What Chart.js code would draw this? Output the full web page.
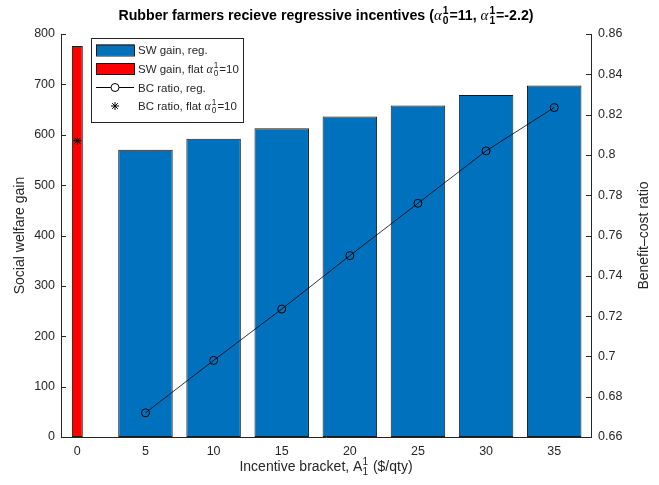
<!DOCTYPE html>
<html>
<head>
<meta charset="utf-8">
<script src="https://cdn.jsdelivr.net/npm/chart.js@4.4.0/dist/chart.umd.min.js"></script>
<style>
  html, body { margin: 0; padding: 0; background: #fff; }
</style>
</head>
<body>
<canvas id="chart" width="659" height="485"></canvas>
<script>
// data
const brackets = [5, 10, 15, 20, 25, 30, 35];
const swGainReg = [570, 592, 613, 636, 658, 679, 698];
const bcRatioReg = [0.672, 0.698, 0.7235, 0.750, 0.776, 0.802, 0.8235];
const flatBracket = [0];
const swGainFlat = [776];
const bcRatioFlat = [0.807];

const xTicks = [0, 5, 10, 15, 20, 25, 30, 35];
const yLeftTicks = [0, 100, 200, 300, 400, 500, 600, 700, 800];
const yRightTicks = [0.66, 0.68, 0.7, 0.72, 0.74, 0.76, 0.78, 0.8, 0.82, 0.84, 0.86];

const TXT = "#262626";
const FONT = "'Liberation Sans', Arial, sans-serif";
const SERIF = "'Liberation Serif', 'DejaVu Serif', serif";

// rich text pieces: {t} plain, {a} alpha, {sub, sup} stacked scripts
function richWidth(ctx, parts, size, weight) {
    let w = 0;
    for (const p of parts) {
        if (p.t !== undefined) {
            ctx.font = `${weight} ${size}px ${FONT}`;
            w += ctx.measureText(p.t).width;
        } else if (p.a) {
            ctx.font = `italic ${size * 1.05}px ${SERIF}`;
            w += ctx.measureText("\u03b1").width + 1;
        } else {
            ctx.font = `${weight} ${size * 0.72}px ${FONT}`;
            w += Math.max(ctx.measureText(p.sub).width, ctx.measureText(p.sup).width) + 1;
        }
    }
    return w;
}

function drawRich(ctx, parts, x, y, size, weight) {
    ctx.textBaseline = "alphabetic";
    ctx.textAlign = "left";
    let cx = x;
    for (const p of parts) {
        if (p.t !== undefined) {
            ctx.font = `${weight} ${size}px ${FONT}`;
            ctx.fillText(p.t, cx, y);
            cx += ctx.measureText(p.t).width;
        } else if (p.a) {
            ctx.font = `italic ${size * 1.05}px ${SERIF}`;
            ctx.fillText("\u03b1", cx, y);
            cx += ctx.measureText("\u03b1").width + 1;
        } else {
            ctx.font = `${weight} ${size * 0.72}px ${FONT}`;
            ctx.fillText(p.sup, cx, y - size * 0.42);
            ctx.fillText(p.sub, cx, y + size * 0.3);
            cx += Math.max(ctx.measureText(p.sub).width, ctx.measureText(p.sup).width) + 1;
        }
    }
}

const titleParts = [
    { t: "Rubber farmers recieve regressive incentives (" },
    { a: true }, { sub: "0", sup: "1" }, { t: "=11, " },
    { a: true }, { sub: "1", sup: "1" }, { t: "=-2.2)" },
];
const xTitleParts = [
    { t: "Incentive bracket, A" }, { sub: "1", sup: "1" }, { t: " ($/qty)" },
];
const flatParts = (label) => [{ t: label + " " }, { a: true }, { sub: "0", sup: "1" }, { t: "=10" }];

const decor = {
    id: "decor",
    beforeDatasetsDraw(chart) {
        // inward tick marks, matlab style
        const { ctx, chartArea: ca, scales } = chart;
        ctx.save();
        ctx.strokeStyle = TXT;
        ctx.lineWidth = 1;
        ctx.beginPath();
        for (const v of xTicks) {
            const px = Math.round(scales.x.getPixelForValue(v)) + 0.5;
            ctx.moveTo(px, ca.bottom);
            ctx.lineTo(px, ca.bottom - 5);
        }
        for (const v of yLeftTicks) {
            const py = Math.round(scales.y.getPixelForValue(v)) + 0.5;
            ctx.moveTo(ca.left, py);
            ctx.lineTo(ca.left + 5, py);
        }
        for (const v of yRightTicks) {
            const py = Math.round(scales.y1.getPixelForValue(v)) + 0.5;
            ctx.moveTo(ca.right, py);
            ctx.lineTo(ca.right - 5, py);
        }
        ctx.stroke();
        ctx.restore();
    },
    afterDraw(chart) {
        const { ctx, chartArea: ca } = chart;
        const midX = (ca.left + ca.right) / 2;
        const midY = (ca.top + ca.bottom) / 2;
        ctx.save();
        ctx.fillStyle = "#000";

        // title
        let w = richWidth(ctx, titleParts, 14.2, "bold");
        drawRich(ctx, titleParts, midX - w / 2, 20, 14.2, "bold");

        ctx.fillStyle = TXT;
        // x title
        w = richWidth(ctx, xTitleParts, 14, "normal");
        drawRich(ctx, xTitleParts, midX - w / 2, 471, 14, "normal");

        // y titles
        ctx.font = `14px ${FONT}`;
        ctx.textAlign = "center";
        ctx.textBaseline = "middle";
        ctx.save();
        ctx.translate(20, midY);
        ctx.rotate(-Math.PI / 2);
        ctx.fillText("Social welfare gain", 0, 0);
        ctx.restore();
        ctx.save();
        ctx.translate(644, midY);
        ctx.rotate(-Math.PI / 2);
        ctx.fillText("Benefit\u2013cost ratio", 0, 0);
        ctx.restore();

        // legend
        const lx = ca.left + 30, ly = ca.top + 4, lw = 152, lh = 84;
        ctx.fillStyle = "#fff";
        ctx.fillRect(lx, ly, lw, lh);
        ctx.strokeStyle = TXT;
        ctx.lineWidth = 1;
        ctx.strokeRect(lx + 0.5, ly + 0.5, lw, lh);
        const rows = [ly + 12, ly + 30.5, ly + 49.5, ly + 68];
        const sx = lx + 5, sw = 38, tx = lx + 47;
        ctx.fillStyle = "#0072BD";
        ctx.fillRect(sx, rows[0] - 5.5, sw, 11);
        ctx.strokeStyle = "#1a1a1a";
        ctx.strokeRect(sx + 0.5, rows[0] - 5.5 + 0.5, sw, 11);
        ctx.fillStyle = "#FF0000";
        ctx.fillRect(sx, rows[1] - 5.5, sw, 11);
        ctx.strokeRect(sx + 0.5, rows[1] - 5.5 + 0.5, sw, 11);
        ctx.strokeStyle = "#000";
        ctx.beginPath();
        ctx.moveTo(sx, rows[2]);
        ctx.lineTo(sx + sw, rows[2]);
        ctx.stroke();
        ctx.fillStyle = "#fff";
        ctx.beginPath();
        ctx.arc(sx + sw / 2, rows[2], 4, 0, Math.PI * 2);
        ctx.fill();
        ctx.stroke();
        Chart.helpers.drawPoint(ctx, { pointStyle: "star", radius: 4, borderWidth: 1, rotation: 0 }, sx + sw / 2, rows[3]);

        ctx.fillStyle = TXT;
        const ls = 11.5;
        drawRich(ctx, [{ t: "SW gain, reg." }], tx, rows[0] + 4, ls, "normal");
        drawRich(ctx, flatParts("SW gain, flat"), tx, rows[1] + 4, ls, "normal");
        drawRich(ctx, [{ t: "BC ratio, reg." }], tx, rows[2] + 4, ls, "normal");
        drawRich(ctx, flatParts("BC ratio, flat"), tx, rows[3] + 4, ls, "normal");
        ctx.restore();
    },
};

const tickFont = { family: FONT, size: 12.5 };

new Chart(document.getElementById("chart"), {
    type: "bar",
    data: {
        datasets: [
            {
                type: "line",
                label: "BC ratio, flat",
                data: flatBracket.map((b, i) => ({ x: b, y: bcRatioFlat[i] })),
                yAxisID: "y1",
                showLine: false,
                pointStyle: "star",
                pointRadius: 4,
                pointBorderWidth: 1,
                borderColor: "#000",
                backgroundColor: "#000",
                order: 0,
            },
            {
                type: "line",
                label: "BC ratio, reg.",
                data: brackets.map((b, i) => ({ x: b, y: bcRatioReg[i] })),
                yAxisID: "y1",
                borderColor: "#000",
                borderWidth: 0.8,
                tension: 0,
                pointStyle: "circle",
                pointRadius: 4,
                pointBorderWidth: 1,
                pointBorderColor: "#000",
                pointBackgroundColor: "rgba(0,0,0,0)",
                order: 1,
            },
            {
                label: "SW gain, reg.",
                data: brackets.map((b, i) => ({ x: b, y: swGainReg[i] })),
                yAxisID: "y",
                backgroundColor: "#0072BD",
                borderColor: "#1a1a1a",
                borderWidth: 1,
                borderSkipped: false,
                grouped: false,
                categoryPercentage: 1,
                barPercentage: 0.8,
                order: 2,
            },
            {
                label: "SW gain, flat",
                data: flatBracket.map((b, i) => ({ x: b, y: swGainFlat[i] })),
                yAxisID: "y",
                backgroundColor: "#FF0000",
                borderColor: "#1a1a1a",
                borderWidth: 1,
                borderSkipped: false,
                grouped: false,
                categoryPercentage: 1,
                barPercentage: 0.16,
                order: 3,
            },
        ],
    },
    options: {
        responsive: false,
        animation: false,
        devicePixelRatio: 1,
        layout: { padding: { top: 34, left: 0, right: 0, bottom: 0 } },
        scales: {
            x: {
                type: "linear",
                min: -1.2,
                max: 37.7,
                offset: false,
                grid: { display: false, drawTicks: false },
                border: { color: TXT },
                ticks: { color: TXT, font: tickFont, padding: 7, maxRotation: 0 },
                afterBuildTicks: (s) => { s.ticks = xTicks.map((v) => ({ value: v })); },
                afterFit: (s) => { s.height = 48; },
            },
            y: {
                position: "left",
                min: 0,
                max: 800,
                grid: { display: false, drawTicks: false },
                border: { color: TXT },
                ticks: { color: TXT, font: tickFont, padding: 6 },
                afterBuildTicks: (s) => { s.ticks = yLeftTicks.map((v) => ({ value: v })); },
                afterFit: (s) => { s.width = 61; },
            },
            y1: {
                position: "right",
                min: 0.66,
                max: 0.86,
                grid: { display: false, drawTicks: false },
                border: { color: TXT },
                ticks: {
                    color: TXT,
                    font: tickFont,
                    padding: 7,
                    callback: (v) => String(Math.round(v * 100) / 100),
                },
                afterBuildTicks: (s) => { s.ticks = yRightTicks.map((v) => ({ value: v })); },
                afterFit: (s) => { s.width = 68; },
            },
        },
        plugins: {
            legend: { display: false },
            title: { display: false },
            tooltip: { enabled: false },
        },
    },
    plugins: [decor],
});
</script>
</body>
</html>
